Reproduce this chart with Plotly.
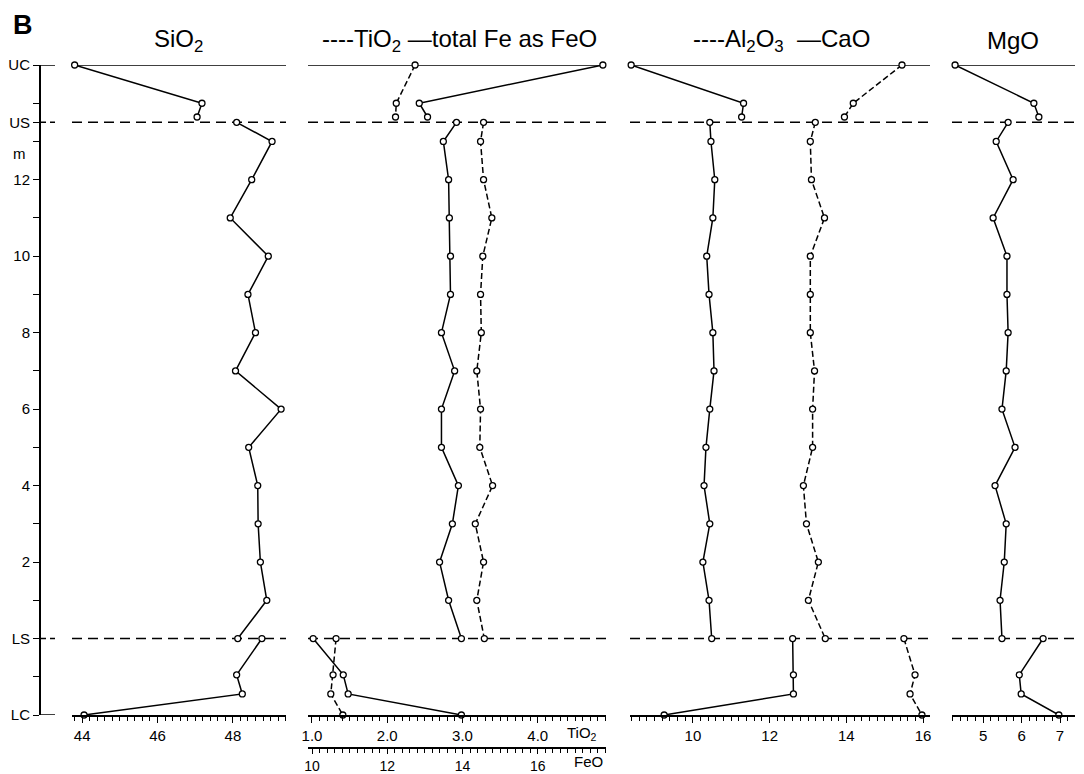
import numpy as np
import plotly.graph_objects as go

# ---------------- data ----------------
depth_upper = [15, 14, 13.64]
depth_main = [13.5, 13, 12, 11, 10, 9, 8, 7, 6, 5, 4, 3, 2, 1, 0]
depth_lower = [0, -0.95, -1.45, -2]

sio2_upper = [43.8, 47.18, 47.05]
sio2_main = [48.1, 49.04, 48.5, 47.93, 48.94, 48.4, 48.6, 48.07, 49.28, 48.42, 48.66, 48.67, 48.73, 48.9, 48.13]
sio2_lower = [48.77, 48.1, 48.25, 44.05]

tio2_upper = [2.37, 2.12, 2.11]
tio2_main = [3.28, 3.24, 3.28, 3.39, 3.27, 3.24, 3.25, 3.19, 3.24, 3.23, 3.40, 3.17, 3.28, 3.19, 3.29]
tio2_lower = [1.32, 1.28, 1.25, 1.41]

feo_upper = [17.73, 12.85, 13.07]
feo_main = [13.84, 13.49, 13.63, 13.65, 13.68, 13.68, 13.44, 13.79, 13.44, 13.44, 13.89, 13.73, 13.39, 13.63, 13.97]
feo_lower = [10.03, 10.83, 10.96, 13.97]

al2o3_upper = [15.45, 14.18, 13.95]
al2o3_main = [13.19, 13.06, 13.09, 13.43, 13.06, 13.06, 13.06, 13.17, 13.12, 13.12, 12.88, 12.96, 13.27, 13.01, 13.45]
al2o3_lower = [15.5, 15.79, 15.66, 15.97]

cao_upper = [8.39, 11.32, 11.27]
cao_main = [10.44, 10.47, 10.57, 10.52, 10.36, 10.42, 10.52, 10.55, 10.44, 10.34, 10.29, 10.44, 10.26, 10.42, 10.49]
cao_lower = [12.6, 12.62, 12.62, 9.25]

mgo_upper = [4.27, 6.32, 6.45]
mgo_main = [5.65, 5.34, 5.78, 5.26, 5.62, 5.62, 5.65, 5.60, 5.49, 5.83, 5.31, 5.60, 5.55, 5.44, 5.49]
mgo_lower = [6.56, 5.94, 5.99, 6.97]

y_tickvals = [-2, -1, 0, 1, 2, 3, 4, 5, 6, 7, 8, 9, 10, 11, 12, 13, 13.5, 14, 15]
y_ticktext = ["LC", "", "LS", "", "2", "", "4", "", "6", "", "8", "", "10", "", "12", "", "US", "", "UC"]
levels = {"UC": 15, "US": 13.5, "LS": 0, "LC": -2}

# ---------------- layout geometry (page pixels; page body has 8px margin) ----------------
OFF = 8
W, H = 1084 - OFF, 774 - OFF
ML = 40 - OFF          # depth axis at page x = 40
MR = W - (1076 - OFF)  # plot right edge at page x = 1076
MT = 65 - OFF          # UC at page y = 65
MB = H - (748 - OFF)   # FeO axis at page y = 748
PW = W - ML - MR
PH = H - MT - MB


def px_x(p):
    return (p - OFF - ML) / PW


def px_y(p):
    return (H - MB - (p - OFF)) / PH


ydom0 = px_y(715)
FONT = "Liberation Sans, Arial, Helvetica, sans-serif"
BLACK = "black"

fig = go.Figure()


def add_series(xs_list, xaxis, dashed):
    for xs, ys in zip(xs_list, [depth_upper, depth_main, depth_lower]):
        fig.add_trace(go.Scatter(
            x=xs, y=ys, xaxis=xaxis, yaxis="y", mode="lines+markers",
            line=dict(color=BLACK, width=1.5, dash="6px,3px" if dashed else "solid"),
            marker=dict(symbol="circle", size=6, color="white",
                        line=dict(color=BLACK, width=1.3)),
            cliponaxis=False, showlegend=False, hoverinfo="x+y"))


add_series([sio2_upper, sio2_main, sio2_lower], "x", False)
add_series([tio2_upper, tio2_main, tio2_lower], "x2", True)
add_series([feo_upper, feo_main, feo_lower], "x3", False)
add_series([al2o3_upper, al2o3_main, al2o3_lower], "x4", True)
add_series([cao_upper, cao_main, cao_lower], "x4", False)
add_series([mgo_upper, mgo_main, mgo_lower], "x5", False)


def xaxis_def(dom, rng, major, labels, minor_step, anchor="y", position=None,
              overlaying=None, ticklen=6, minorlen=4, fsize=15):
    d = dict(
        domain=dom, range=rng, anchor=anchor, automargin=False,
        showline=True, linecolor=BLACK, linewidth=2,
        showgrid=False, zeroline=False,
        ticks="outside", ticklen=ticklen, tickwidth=1.3, tickcolor=BLACK,
        tickmode="array", tickvals=major, ticktext=labels,
        tickfont=dict(family=FONT, size=fsize, color=BLACK),
        minor=dict(ticks="outside", ticklen=minorlen, tickwidth=1, tickcolor=BLACK,
                   tickmode="array",
                   tickvals=list(np.round(np.arange(rng[0] - rng[0] % minor_step, rng[1], minor_step), 3)),
                   showgrid=False),
        fixedrange=True,
    )
    if position is not None:
        d["position"] = position
    if overlaying is not None:
        d["overlaying"] = overlaying
    return d


dom1 = [px_x(72), px_x(286)]
dom2 = [px_x(308), px_x(606)]
dom3 = [px_x(630), px_x(930)]
dom4 = [px_x(952), px_x(1075)]

fig.update_layout(
    xaxis=xaxis_def(dom1, [43.73, 49.41], [44, 45, 46, 47, 48, 49],
                    ["44", "", "46", "", "48", ""], 0.2),
    xaxis2=xaxis_def(dom2, [0.947, 4.907], [1.0, 1.5, 2.0, 2.5, 3.0, 3.5, 4.0, 4.5],
                     ["1.0", "", "2.0", "", "3.0", "", "4.0", ""], 0.1),
    xaxis3=xaxis_def(dom2, [9.893, 17.813], [10, 11, 12, 13, 14, 15, 16, 17],
                     ["10", "", "12", "", "14", "", "16", ""], 0.2,
                     anchor="free", position=0, overlaying="x2",
                     ticklen=5, minorlen=4, fsize=14),
    xaxis4=xaxis_def(dom3, [8.36, 16.18], [9, 10, 11, 12, 13, 14, 15, 16],
                     ["", "10", "", "12", "", "14", "", "16"], 0.2),
    xaxis5=xaxis_def(dom4, [4.19, 7.39], [5, 6, 7], ["5", "6", "7"], 0.2),
    yaxis=dict(
        domain=[ydom0, 1], range=[-2, 15], anchor="free", position=0, automargin=False,
        showline=True, linecolor=BLACK, linewidth=2,
        showgrid=False, zeroline=False,
        ticks="outside", ticklen=6, tickwidth=1.3, tickcolor=BLACK,
        tickmode="array", tickvals=y_tickvals, ticktext=y_ticktext,
        tickfont=dict(family=FONT, size=15, color=BLACK),
        fixedrange=True,
    ),
    width=W, height=H,
    margin=dict(l=ML, r=MR, t=MT, b=MB, autoexpand=False),
    paper_bgcolor="white", plot_bgcolor="white",
    showlegend=False,
    font=dict(family=FONT, color=BLACK),
)

# horizontal reference lines in every panel
shapes = []
for xd in ["x domain", "x2 domain", "x4 domain", "x5 domain"]:
    for name in ["UC", "US", "LS"]:
        shapes.append(dict(type="line", xref=xd, yref="y", x0=0, x1=1,
                           y0=levels[name], y1=levels[name], layer="below",
                           line=dict(color=BLACK, width=1.5,
                                     dash="solid" if name == "UC" else "10px,6px")))
# short stubs next to the depth axis
for name in ["UC", "US", "LS", "LC"]:
    shapes.append(dict(type="line", xref="paper", yref="y", x0=0, x1=px_x(55),
                       y0=levels[name], y1=levels[name],
                       line=dict(color=BLACK, width=1.5,
                                 dash="solid" if name in ("UC", "LC") else "6px,4px")))
fig.update_layout(shapes=shapes)

ty = px_y(40)
annos = [
    dict(text="<b>B</b>", x=px_x(23), y=px_y(8), font=dict(size=27), yanchor="top"),
    dict(text="SiO<sub>2</sub>", x=px_x(178), y=ty, font=dict(size=24)),
    dict(text="----TiO<sub>2</sub> —total Fe as FeO", x=px_x(459), y=ty, font=dict(size=24)),
    dict(text="----Al<sub>2</sub>O<sub>3</sub>  —CaO", x=px_x(781), y=ty, font=dict(size=24)),
    dict(text="MgO", x=px_x(1013), y=ty, font=dict(size=24)),
    dict(text="m", x=px_x(19), y=px_y(153), font=dict(size=15)),
    dict(text="TiO<sub>2</sub>", x=px_x(582), y=px_y(733), font=dict(size=15)),
    dict(text="FeO", x=px_x(588), y=px_y(761), font=dict(size=15)),
]
for a in annos:
    a.setdefault("yanchor", "middle")
    a.update(xref="paper", yref="paper", showarrow=False, xanchor="center")
    a["font"].update(family=FONT, color=BLACK)
fig.update_layout(annotations=annos)

fig.write_html("out.html")
